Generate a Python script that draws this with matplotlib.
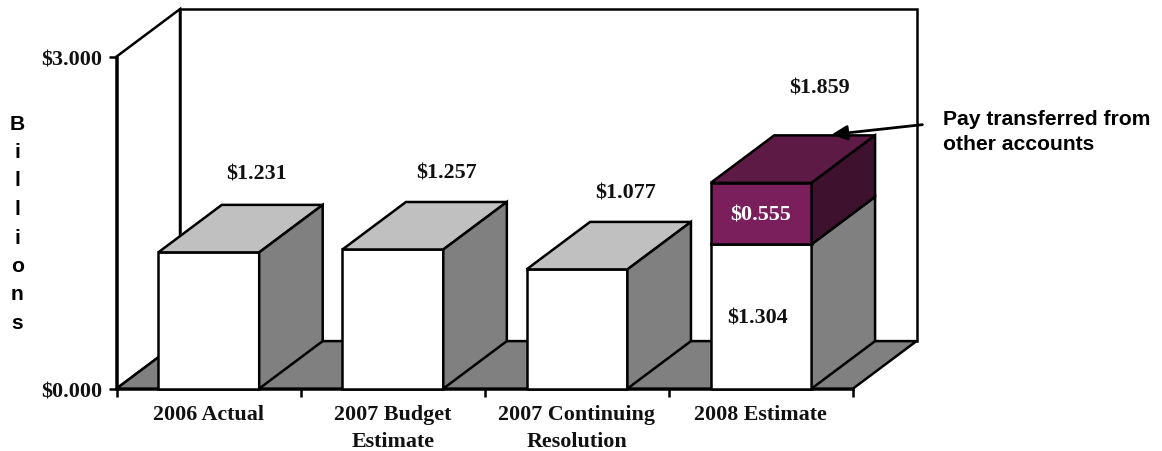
import matplotlib
matplotlib.use('Agg')
from matplotlib import pyplot as plt

categories = ['2006 Actual', '2007 Budget\nEstimate', '2007 Continuing\nResolution', '2008 Estimate']
base = [1.231, 1.257, 1.077, 1.304]
transferred = [0, 0, 0, 0.555]
y_ticks = [0, 3]
y_max = 3
note = 'Pay transferred from\nother accounts'

serif = 'Liberation Serif'
sans = 'Liberation Sans'
lw = 1.8
size = 15.8

fig = plt.figure(figsize=(11.62, 4.52), dpi=100)
ax = fig.add_axes([116.5/1162, (452-389.6)/452, (853-116.5)/1162, (389.6-57.6)/452])
ax.set_xlim(0, 4)
ax.set_ylim(0, y_max)

# depth of the fake 3d box, in data units
dx = 63.5/184.1
dy = 47.5/110.67
bar_w = 0.548


def box(x0, x1, y0, y1, front, top, side, z=3):
    ax.fill([x0, x1, x1, x0], [y0, y0, y1, y1], fc=front, ec='k', lw=lw, clip_on=False, zorder=z, joinstyle='miter')
    ax.fill([x0, x1, x1+dx, x0+dx], [y1, y1, y1+dy, y1+dy], fc=top, ec='k', lw=lw, clip_on=False, zorder=z, joinstyle='miter')
    ax.fill([x1, x1+dx, x1+dx, x1], [y0, y0+dy, y1+dy, y1], fc=side, ec='k', lw=lw, clip_on=False, zorder=z, joinstyle='miter')


# walls and floor
ax.fill([0, dx, dx, 0], [0, dy, y_max+dy, y_max], fc='w', ec='k', lw=lw, clip_on=False, zorder=1)
ax.fill([dx, 4+dx, 4+dx, dx], [dy, dy, y_max+dy, y_max+dy], fc='w', ec='k', lw=lw, clip_on=False, zorder=1)
ax.fill([0, 4, 4+dx, dx], [0, 0, dy, dy], fc='#808080', ec='k', lw=lw, clip_on=False, zorder=1.5)

for i in range(len(categories)):
    x0 = i + 0.5 - bar_w/2 + 0.001
    x1 = x0 + bar_w
    box(x0, x1, 0, base[i], 'w', '#c0c0c0', '#808080')
    if transferred[i] > 0:
        box(x0, x1, base[i], base[i]+transferred[i], '#7b1f5c', '#5d1a45', '#3e112e', z=3.5)

# totals above the bars, they don't sit at a fixed offset
total_nudge = [0.263, 0.293, 0.265, 0.32]
total_rise = [0.711, 0.696, 0.691, 0.862]
for i in range(len(categories)):
    total = base[i] + transferred[i]
    ax.text(i+0.5+total_nudge[i], total+total_rise[i], '$%.3f' % total, family=serif, weight='bold',
            fontsize=size, ha='center', va='center', color='#111111', zorder=5)

ax.text(3.5-0.02, 0.64, '$%.3f' % base[3], family=serif, weight='bold', fontsize=size,
        ha='center', va='center', color='#111111', zorder=5)
ax.text(3.5, base[3]+transferred[3]/2-0.012, '$%.3f' % transferred[3], family=serif, weight='bold', fontsize=size,
        ha='center', va='center', color='w', zorder=5)

ax.annotate('', xy=(3.883, 2.295), xytext=(4.377, 2.385), zorder=6, annotation_clip=False,
            arrowprops=dict(arrowstyle='-|>,head_length=0.95,head_width=0.45', lw=2.0, color='k',
                            shrinkA=0, shrinkB=0))
fig.text(943/1162, 1-132/452, note, family=sans, weight='bold', fontsize=15.2, ha='left', va='center',
         color='k', linespacing=1.45)

# y title is stacked one letter per line
for i, ch in enumerate('Billions'):
    fig.text(17.5/1162, 1-(124+28.5*i)/452, ch, family=sans, weight='bold', fontsize=15.2,
             ha='center', va='center', color='k')

for s in ['top', 'right']:
    ax.spines[s].set_visible(False)
for s in ['left', 'bottom']:
    ax.spines[s].set_linewidth(lw)
ax.set_yticks(y_ticks, ['$%.3f' % v for v in y_ticks], family=serif, weight='bold', fontsize=size, color='#111111')
ax.set_xticks(range(5), [''] * 5)
ax.set_xticks([0.5, 1.5, 2.5, 3.5], categories, minor=True, family=serif, weight='bold', fontsize=size,
              color='#111111', linespacing=1.5)
ax.tick_params(axis='both', which='major', length=5.5, width=lw, pad=5)
ax.tick_params(axis='x', which='minor', length=0, pad=11)
ax.set_facecolor('none')

fig.savefig('out.png', dpi=100)
